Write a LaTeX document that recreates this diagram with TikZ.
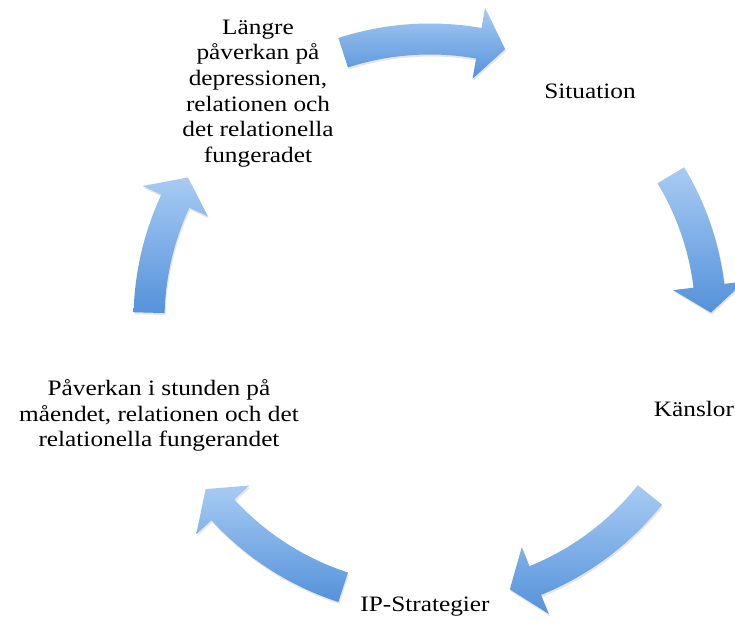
\documentclass[tikz,border=0pt]{standalone}
\usepackage{fontspec}
\setmainfont{Liberation Serif}[FakeStretch=1.15]
\usepackage{xcolor}
\usepackage{tikz}
\usetikzlibrary{shadows}
\definecolor{arrowtop}{RGB}{168,203,243}
\definecolor{arrowbot}{RGB}{84,146,218}

\begin{document}
\begin{tikzpicture}[x=1pt, y=1pt,
            lbl/.style={align=center, inner sep=0pt, font=\fontsize{22}{25.7}\selectfont},
            cyc/.style={top color=arrowtop, bottom color=arrowbot, drop shadow={shadow xshift=1pt, shadow yshift=-2pt, opacity=0.2}}]
            \useasboundingbox (0,0) rectangle (735,622);
            \coordinate (ctr) at (430,302);

            % curved arrows: start angle / tip angle
            \begin{scope}[shift={(ctr)}]
            \foreach \a/\b in {108/74.5, 31/1.5, -38.5/-73.5, -108/-143, 178.5/149.5} {
                \path[cyc] (\a:296.5) arc[start angle=\a, end angle=\b+5.5, radius=296.5]
                    -- (\b+5.5:317) -- (\b:281) -- (\b+5.5:245) -- (\b+5.5:265.5)
                    arc[start angle=\b+5.5, end angle=\a, radius=265.5] -- cycle;
            }
            \end{scope}

            \node[lbl] (sit) at (590,531) {Situation};
            \node[lbl] (kansl) at (694,213) {Känslor};
            \node[lbl] (strat) at (425,15) {IP-Strategier};
            \node[lbl] (stund) at (159,206.5) {Påverkan i stunden på\\måendet, relationen och det\\relationella fungerandet};
            \node[lbl] (langre) at (258,528.5) {Längre\\påverkan på\\depressionen,\\relationen och\\det relationella\\fungeradet};
        \end{tikzpicture}
\end{document}
